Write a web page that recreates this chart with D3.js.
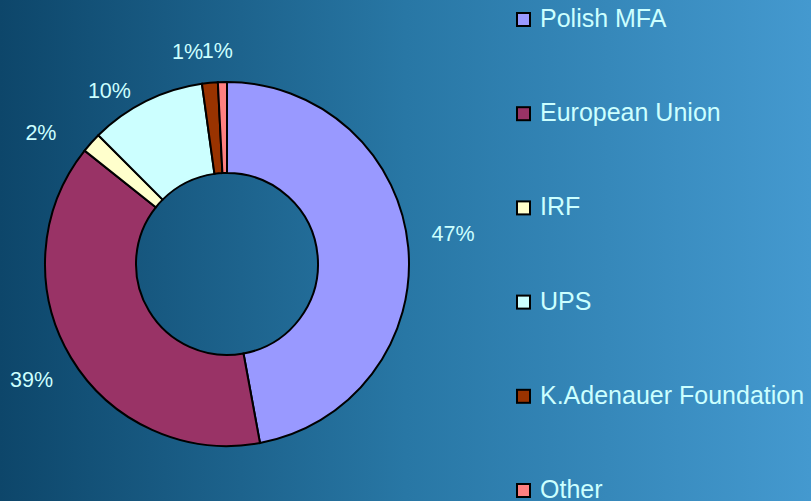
<!DOCTYPE html>
<html lang="en">
<head>
    <meta charset="UTF-8">
    <title>Funding sources</title>
    <script src="https://d3js.org/d3.v7.min.js"></script>
    <style>
        body {
            margin: 0;
            font-family: "Liberation Sans", Arial, sans-serif;
        }
        .slice {
            stroke: #000;
            stroke-width: 2px;
        }
        .pct {
            font-size: 21.5px;
            fill: #ccffff;
            text-anchor: middle;
        }
        .legend text {
            font-size: 25px;
            fill: #ccffff;
        }
        .legend rect {
            stroke: #000;
            stroke-width: 2px;
        }
    </style>
</head>
<body>
    <svg width="811" height="501"></svg>
    <script>
        var categories = ["Polish MFA", "European Union", "IRF", "UPS", "K.Adenauer Foundation", "Other"];
        var values = [47.1, 38.6, 1.8, 10.3, 1.4, 0.8];
        var colors = ["#9999ff", "#993366", "#ffffcc", "#ccffff", "#993300", "#ff8080"];

        var width = 811, height = 501;
        var cx = 227, cy = 264,
            outerR = 182, innerR = 91, labelR = 228;

        var svg = d3.select("svg");

        // background gradient
        var grad = svg.append("defs").append("linearGradient")
            .attr("id", "bg")
            .attr("x1", "0%").attr("x2", "100%")
            .attr("y1", "0%").attr("y2", "0%");
        grad.append("stop").attr("offset", "0%").attr("stop-color", "#0d466a");
        grad.append("stop").attr("offset", "50%").attr("stop-color", "#2877a5");
        grad.append("stop").attr("offset", "100%").attr("stop-color", "#4499cf");
        svg.append("rect")
            .attr("width", width).attr("height", height)
            .attr("fill", "url(#bg)");

        var total = d3.sum(values);
        var pie = d3.pie().sort(null).value(function(d) { return d; });
        var arcs = pie(values);

        var arc = d3.arc().innerRadius(innerR).outerRadius(outerR);
        var labelArc = d3.arc().innerRadius(labelR).outerRadius(labelR);

        var g = svg.append("g")
            .attr("transform", "translate(" + cx + "," + cy + ")");

        g.selectAll(".slice")
            .data(arcs)
          .enter().append("path")
            .attr("class", "slice")
            .attr("d", arc)
            .attr("fill", function(d, i) { return colors[i]; });

        // small slices get their labels moved apart, like the original
        var nudge = [[-1, -10], [0, -2], [-16, 20], [-16, 31], [-18, 14], [-4, 14]];

        g.selectAll(".pct")
            .data(arcs)
          .enter().append("text")
            .attr("class", "pct")
            .attr("x", function(d, i) { return labelArc.centroid(d)[0] + nudge[i][0]; })
            .attr("y", function(d, i) { return labelArc.centroid(d)[1] + nudge[i][1]; })
            .attr("dy", "0.35em")
            .text(function(d) { return Math.round(d.value / total * 100) + "%"; });

        // legend
        var ly = d3.scalePoint()
            .domain(categories)
            .range([27, 498]);

        var legend = svg.append("g").attr("class", "legend")
            .selectAll("g")
            .data(categories)
          .enter().append("g")
            .attr("transform", function(d) { return "translate(517," + ly(d) + ")"; });

        legend.append("rect")
            .attr("x", 0).attr("y", -14)
            .attr("width", 13).attr("height", 13)
            .attr("fill", function(d, i) { return colors[i]; });

        legend.append("text")
            .attr("x", 23)
            .attr("y", 0)
            .text(function(d) { return d; });
    </script>
</body>
</html>
